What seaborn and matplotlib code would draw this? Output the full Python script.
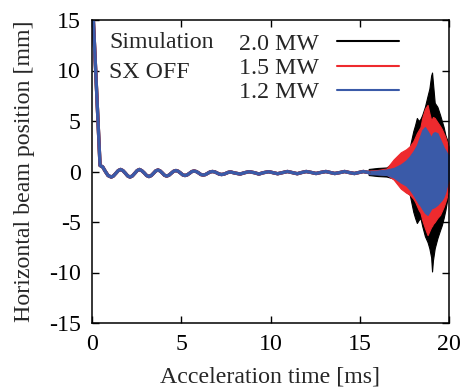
import numpy as np
import pandas as pd
import matplotlib
matplotlib.use("Agg")
import matplotlib.pyplot as plt
from matplotlib.lines import Line2D
import seaborn as sns

# ---- data ----
series_labels = ["2.0 MW", "1.5 MW", "1.2 MW"]
series_colors = ["#000000", "#ee2a2e", "#3a5aa8"]

# common (overlapping) part of the orbit, 0 - 15.5 ms
t_common = [0.05, 0.45,
            0.6, 0.75, 0.9, 1.08,
            1.2, 1.34, 1.47, 1.6,
            1.73, 1.87, 2.0, 2.13,
            2.26, 2.4, 2.53, 2.66,
            2.79, 2.93, 3.06, 3.19,
            3.32, 3.45, 3.57, 3.7,
            3.82, 3.94, 4.06, 4.18,
            4.31, 4.44, 4.57, 4.7,
            4.83, 4.96, 5.08, 5.21,
            5.34, 5.47, 5.59, 5.72,
            5.85, 5.98, 6.1, 6.23,
            6.36, 6.49, 6.62, 6.75,
            6.88, 7.01, 7.13, 7.26,
            7.39, 7.52, 7.64, 7.77,
            8.0, 8.3, 8.55, 8.8, 9.1, 9.35,
            9.6, 9.9, 10.15, 10.4, 10.7, 10.95,
            11.2, 11.5, 11.75, 12.0, 12.3, 12.55,
            12.8, 13.1, 13.35, 13.6, 13.9, 14.15,
            14.4, 14.7, 14.95, 15.2, 15.5]
y_common = [16.0, 0.6,
            0.45, 0.0, -0.4, -0.55,
            -0.44, -0.17, 0.09, 0.2,
            0.09, -0.17, -0.44, -0.55,
            -0.44, -0.17, 0.09, 0.2,
            0.08, -0.15, -0.4, -0.5,
            -0.4, -0.17, 0.06, 0.15,
            0.05, -0.15, -0.37, -0.45,
            -0.37, -0.17, 0.02, 0.1,
            0.02, -0.15, -0.33, -0.4,
            -0.33, -0.17, -0.01, 0.05,
            -0.01, -0.15, -0.3, -0.35,
            -0.3, -0.17, -0.04, 0.0,
            -0.04, -0.15, -0.26, -0.3,
            -0.26, -0.17, -0.08, -0.05,
            -0.15, -0.25, -0.12, -0.02, -0.12, -0.25,
            -0.12, -0.02, -0.12, -0.22, -0.1, 0.0,
            -0.1, -0.22, -0.1, 0.0, -0.1, -0.2,
            -0.1, 0.0, -0.1, -0.2, -0.1, 0.0,
            -0.1, -0.2, -0.1, 0.0, -0.1]

# envelopes of the fast oscillation, 15.5 - 20 ms
t_env = [15.5, 16.0, 16.5, 16.9, 17.3, 17.6, 17.8, 18.0, 18.1, 18.2, 18.3, 18.4, 18.5,
         18.65, 18.8, 18.9, 19.0, 19.05, 19.1, 19.2, 19.35, 19.5, 19.6, 19.7, 19.8, 19.9, 20.0]
upper_20 = [0.25, 0.35, 0.4, 0.9, 1.5, 2.0, 2.4, 4.0, 4.6, 5.3, 5.0, 5.2, 5.6,
            6.4, 7.5, 8.2, 9.5, 9.8, 8.8, 6.8, 6.4, 5.6, 5.0, 4.4, 3.6, 3.1, 2.1]
lower_20 = [-0.35, -0.45, -0.5, -0.7, -1.5, -2.0, -2.3, -4.0, -4.6, -5.1, -4.8, -4.6, -5.4,
            -6.4, -7.0, -7.6, -8.5, -9.9, -8.8, -7.6, -6.6, -5.8, -5.3, -4.6, -3.8, -2.8, -1.3]
upper_15 = [0.1, 0.15, 0.3, 1.2, 1.9, 2.2, 2.5, 3.0, 3.4, 3.8, 4.1, 4.4, 5.3,
            6.2, 6.6, 5.8, 5.1, 5.2, 5.4, 5.3, 4.9, 4.5, 4.2, 3.8, 3.4, 2.8, 2.4]
lower_15 = [-0.2, -0.25, -0.3, -0.8, -1.7, -2.1, -2.3, -2.7, -3.0, -3.4, -3.8, -4.1, -4.8,
            -5.6, -6.3, -5.9, -5.5, -5.4, -5.2, -5.0, -4.6, -4.3, -3.9, -3.5, -3.0, -2.4, -1.8]
upper_12 = [0.05, 0.1, 0.2, 0.35, 0.7, 1.1, 1.5, 2.0, 2.3, 2.6, 3.1, 3.6, 4.1,
            4.4, 4.0, 3.7, 3.4, 3.6, 3.8, 3.9, 3.8, 3.2, 2.8, 2.4, 2.1, 1.8, 1.6]
lower_12 = [-0.25, -0.3, -0.35, -0.6, -1.1, -1.4, -1.8, -2.3, -2.6, -2.9, -3.2, -3.4, -3.7,
            -4.1, -4.3, -4.0, -3.7, -3.6, -3.6, -3.5, -3.3, -3.0, -2.8, -2.5, -2.0, -1.3, -0.8]

x_ticks = [0, 5, 10, 15, 20]
y_ticks = [-15, -10, -5, 0, 5, 10, 15]

FS = 17.2

# ---- style ----
sns.set_theme(style="ticks")
plt.rcParams["font.family"] = ["Liberation Serif", "DejaVu Serif"]
plt.rcParams["font.size"] = FS
plt.rcParams["axes.linewidth"] = 1.1

fig = plt.figure(figsize=(4.66, 3.89), dpi=100)
ax = fig.add_axes([92 / 466, 1 - 323 / 389, 357 / 466, 303 / 389])

# common early part for all three series
df = pd.concat([pd.DataFrame({"t": t_common, "y": y_common, "s": lab}) for lab in series_labels],
               ignore_index=True)
sns.lineplot(data=df, x="t", y="y", hue="s", hue_order=series_labels,
             palette=series_colors, linewidth=2.4, ax=ax, legend=False,
             estimator=None, sort=False)

# fast oscillation region as filled envelopes
for up, lo, col in [(upper_20, lower_20, series_colors[0]),
                    (upper_15, lower_15, series_colors[1]),
                    (upper_12, lower_12, series_colors[2])]:
    ax.fill_between(t_env, lo, up, color=col, linewidth=0.8, edgecolor=col)

ax.set_xlim(0, 20)
ax.set_ylim(-15, 15)
ax.set_xticks(x_ticks)
ax.set_yticks(y_ticks)
ax.set_xticklabels([str(v) for v in x_ticks])
ax.set_yticklabels([str(v) for v in y_ticks])
ax.tick_params(direction="in", length=5, width=1.0, top=True, right=True,
               labelsize=FS, colors="black")
ax.tick_params(axis="x", pad=8)
ax.tick_params(axis="y", pad=8)
for sp in ax.spines.values():
    sp.set_visible(True)
    sp.set_color("black")
ax.set_xlabel("Acceleration time [ms]", fontsize=FS, labelpad=8)
ax.set_ylabel("Horizontal beam position [mm]", fontsize=FS, labelpad=10)

ax.text(0.048, 0.927, "Simulation", transform=ax.transAxes, va="center", ha="left",
        fontsize=FS)
ax.text(0.048, 0.828, "SX OFF", transform=ax.transAxes, va="center", ha="left",
        fontsize=FS)

handles = [Line2D([], [], color=c, linewidth=1.5) for c in series_colors]
ax.legend(handles, series_labels, loc="upper right", bbox_to_anchor=(0.86, 0.957),
          frameon=False, markerfirst=False, handlelength=2.6, handletextpad=0.74,
          labelspacing=0.1, borderpad=0, borderaxespad=0, fontsize=FS)

fig.savefig("out.png", dpi=100)
